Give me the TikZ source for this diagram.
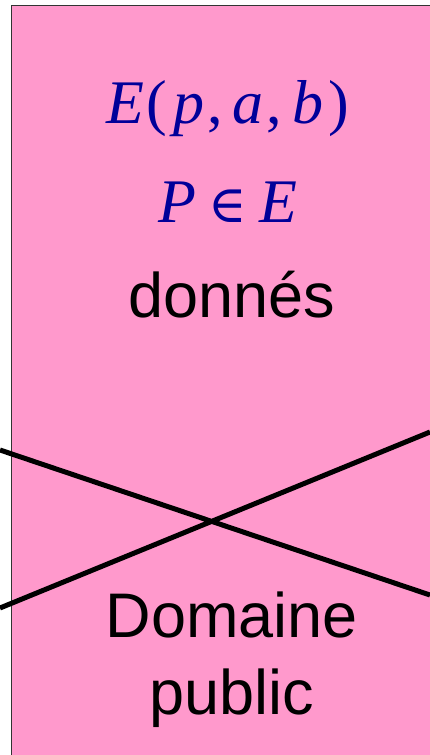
\documentclass[tikz,border=0pt]{standalone}
\usepackage{fontspec}
\setmainfont{Liberation Serif}
\setsansfont{Liberation Sans}
\newfontfamily\symb{DejaVu Serif}
\definecolor{rose}{RGB}{255,153,204}
\definecolor{bleu}{RGB}{0,0,153}
\begin{document}
\begin{tikzpicture}[x=1pt,y=-1pt,line join=round,line cap=round,
	maths/.style={text=bleu,font=\fontsize{62}{62}\selectfont,anchor=base},
	mot/.style={font=\sffamily\fontsize{63}{77}\selectfont,align=center}]
	\useasboundingbox (0,0) rectangle (430,755);
	\clip (0,0) rectangle (430,755);
	\draw[fill=rose,draw=black!80,line width=1.5pt] (11.5,5.5) rectangle (450,780);
	\node[maths] (courbe) at (228,123) {\textit{E}\kern2pt(\kern6pt\textit{p}\kern3pt,\kern10pt\textit{a}\kern3pt,\kern10pt\textit{b}\kern5pt)};
	\node[maths] (point) at (228,222) {\textit{P}\kern12pt{\symb\fontsize{52}{52}\selectfont ∈}\kern12pt\textit{E}};
	\node[mot,anchor=base] (donnes) at (232,317) {donnés};
	\node[mot] (domaine) at (232,660) {Domaine\\public};
	% croix
	\coordinate (g1) at (0,450); \coordinate (d1) at (430,595);
	\coordinate (g2) at (0,608); \coordinate (d2) at (430,432);
	\draw[line width=5pt,line cap=butt] (g1) -- (d1) (g2) -- (d2);
\end{tikzpicture}
\end{document}
